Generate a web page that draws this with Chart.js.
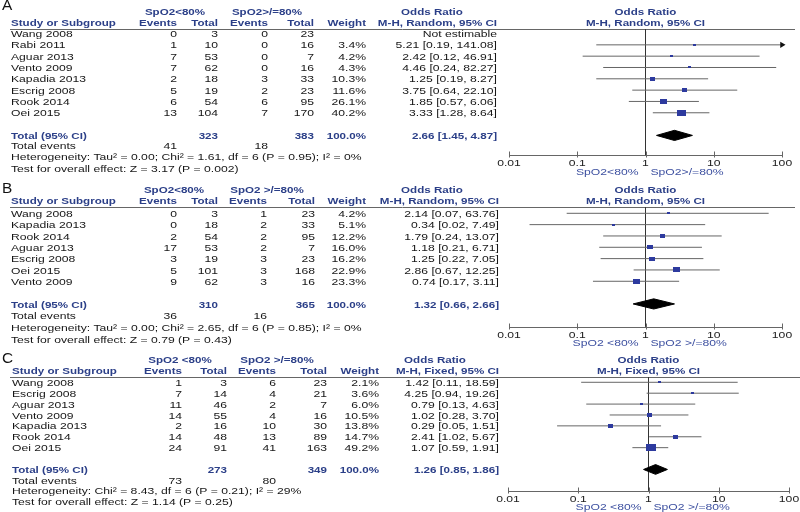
<!DOCTYPE html>
<html>
<head>
<meta charset="utf-8">
<script src="https://cdn.jsdelivr.net/npm/chart.js@4.4.1/dist/chart.umd.min.js"></script>
<style>
    body { margin: 0; background: #fff; }
    #wrap { position: relative; width: 800px; height: 512px; }
    #wrap canvas { position: absolute; left: 0; top: 0; }
</style>
</head>
<body>
<div id="wrap">
    <canvas id="panelA" width="800" height="512"></canvas>
    <canvas id="panelB" width="800" height="512"></canvas>
    <canvas id="panelC" width="800" height="512"></canvas>
</div>
<script>
// ---- panel A ----
const studiesA = ['Wang 2008', 'Rabi 2011', 'Aguar 2013', 'Vento 2009', 'Kapadia 2013', 'Escrig 2008', 'Rook 2014', 'Oei 2015'];
const events1A = [0, 1, 7, 7, 2, 5, 6, 13];
const total1A = [3, 10, 53, 62, 18, 19, 54, 104];
const events2A = [0, 0, 0, 0, 3, 2, 6, 7];
const total2A = [23, 16, 7, 16, 33, 23, 95, 170];
const weightA = [null, 3.4, 4.2, 4.3, 10.3, 11.6, 26.1, 40.2];
const oddsA = [null, 5.21, 2.42, 4.46, 1.25, 3.75, 1.85, 3.33];
const lowerA = [null, 0.19, 0.12, 0.24, 0.19, 0.64, 0.57, 1.28];
const upperA = [null, 141.08, 46.91, 82.27, 8.27, 22.10, 6.06, 8.64];
const pooledA = [2.66, 1.45, 4.87];
const groupsA = ['SpO2<80%', 'SpO2>/=80%'];
const favoursA = ['SpO2<80%', 'SpO2>/=80%'];
const methodA = 'M-H, Random, 95% CI';
const hetA = 'Heterogeneity: Tau² = 0.00; Chi² = 1.61, df = 6 (P = 0.95); I² = 0%';
const testA = 'Test for overall effect: Z = 3.17 (P = 0.002)';

// ---- panel B ----
const studiesB = ['Wang 2008', 'Kapadia 2013', 'Rook 2014', 'Aguar 2013', 'Escrig 2008', 'Oei 2015', 'Vento 2009'];
const events1B = [0, 0, 2, 17, 3, 5, 9];
const total1B = [3, 18, 54, 53, 19, 101, 62];
const events2B = [1, 2, 2, 2, 3, 3, 3];
const total2B = [23, 33, 95, 7, 23, 168, 16];
const weightB = [4.2, 5.1, 12.2, 16.0, 16.2, 22.9, 23.3];
const oddsB = [2.14, 0.34, 1.79, 1.18, 1.25, 2.86, 0.74];
const lowerB = [0.07, 0.02, 0.24, 0.21, 0.22, 0.67, 0.17];
const upperB = [63.76, 7.49, 13.07, 6.71, 7.05, 12.25, 3.11];
const pooledB = [1.32, 0.66, 2.66];
const groupsB = ['SpO2<80%', 'SpO2 >/=80%'];
const favoursB = ['SpO2 <80%', 'SpO2 >/=80%'];
const methodB = 'M-H, Random, 95% CI';
const hetB = 'Heterogeneity: Tau² = 0.00; Chi² = 2.65, df = 6 (P = 0.85); I² = 0%';
const testB = 'Test for overall effect: Z = 0.79 (P = 0.43)';

// ---- panel C ----
const studiesC = ['Wang 2008', 'Escrig 2008', 'Aguar 2013', 'Vento 2009', 'Kapadia 2013', 'Rook 2014', 'Oei 2015'];
const events1C = [1, 7, 11, 14, 2, 14, 24];
const total1C = [3, 14, 46, 55, 16, 48, 91];
const events2C = [6, 4, 2, 4, 10, 13, 41];
const total2C = [23, 21, 7, 16, 30, 89, 163];
const weightC = [2.1, 3.6, 6.0, 10.5, 13.8, 14.7, 49.2];
const oddsC = [1.42, 4.25, 0.79, 1.02, 0.29, 2.41, 1.07];
const lowerC = [0.11, 0.94, 0.13, 0.28, 0.05, 1.02, 0.59];
const upperC = [18.59, 19.26, 4.63, 3.70, 1.51, 5.67, 1.91];
const pooledC = [1.26, 0.85, 1.86];
const groupsC = ['SpO2 <80%', 'SpO2 >/=80%'];
const favoursC = ['SpO2 <80%', 'SpO2 >/=80%'];
const methodC = 'M-H, Fixed, 95% CI';
const hetC = 'Heterogeneity: Chi² = 8.43, df = 6 (P = 0.21); I² = 29%';
const testC = 'Test for overall effect: Z = 1.14 (P = 0.25)';

const tickValues = [0.01, 0.1, 1, 10, 100];
const tickLabels = ['0.01', '0.1', '1', '10', '100'];

// ---- look ----
const FONT = '"Liberation Sans", Arial, sans-serif';
const SX = 1.28;        // the source figure is stretched sideways
const SX_BOLD = 1.22;
const BLUE = '#2b3f88';
const INK = '#161616';
const LINE = '#666';
const SQUARE = '#2d3a9e';
const X_MIN = 0.01;
const X_MAX = 100;
const DIAMOND_H = 0.45;

const sum = arr => arr.reduce((a, b) => a + b, 0);
const fmtCI = (o, l, h) => `${o.toFixed(2)} [${l.toFixed(2)}, ${h.toFixed(2)}]`;

const drawText = (ctx, s, x, y, align, opts = {}) => {
    ctx.save();
    ctx.font = (opts.bold ? 'bold ' : '') + (opts.size || 9.5) + 'px ' + FONT;
    ctx.fillStyle = opts.color || INK;
    ctx.textAlign = align;
    ctx.textBaseline = 'middle';
    ctx.translate(x, y);
    ctx.scale(opts.sx || (opts.bold ? SX_BOLD : SX), 1);
    ctx.fillText(s, 0, 0);
    ctx.restore();
};

// weight box: width grows with sqrt(weight), a bit flatter than wide
const boxImage = (w) => {
    const c = document.createElement('canvas');
    c.width = Math.max(3, Math.round(1.42 * Math.sqrt(w)));
    c.height = Math.max(2, Math.round(c.width * 0.7));
    const g = c.getContext('2d');
    g.fillStyle = SQUARE;
    g.fillRect(0, 0, c.width, c.height);
    return c;
};

const panels = [
    {
        id: 'panelA', letter: 'A',
        studies: studiesA, ev1: events1A, tot1: total1A, ev2: events2A, tot2: total2A,
        weight: weightA, odds: oddsA, lower: lowerA, upper: upperA, pooled: pooledA,
        groups: groupsA, favours: favoursA, method: methodA, het: hetA, test: testA,
        box: {
            left: 509, right: 782, top: 29, bottom: 155, yMin: -0.4, yMax: 10.73,
            letterY: 6, head1: 12, head2: 23.5, foot: [146.7, 157, 169.5],
            studyX: 11, cols: [177, 218, 268, 314, 366, 497], g1: 175, g2: 267, orX: 432, lineEnd: 795
        }
    },
    {
        id: 'panelB', letter: 'B',
        studies: studiesB, ev1: events1B, tot1: total1B, ev2: events2B, tot2: total2B,
        weight: weightB, odds: oddsB, lower: lowerB, upper: upperB, pooled: pooledB,
        groups: groupsB, favours: favoursB, method: methodB, het: hetB, test: testB,
        box: {
            left: 509, right: 782, top: 207, bottom: 326.7, yMin: -0.556, yMax: 10.01,
            letterY: 189, head1: 190, head2: 201.7, foot: [316.7, 328.3, 340],
            studyX: 11, cols: [177, 218, 267, 315, 366, 499], g1: 174, g2: 267, orX: 432, lineEnd: 795
        }
    },
    {
        id: 'panelC', letter: 'C',
        studies: studiesC, ev1: events1C, tot1: total1C, ev2: events2C, tot2: total2C,
        weight: weightC, odds: oddsC, lower: lowerC, upper: upperC, pooled: pooledC,
        groups: groupsC, favours: favoursC, method: methodC, het: hetC, test: testC,
        box: {
            left: 508, right: 789, top: 377, bottom: 490.7, yMin: -0.486, yMax: 9.95,
            letterY: 359, head1: 360, head2: 371, foot: [481, 491.7, 502.3],
            studyX: 12, cols: [182, 227, 276, 327, 379, 499], g1: 180, g2: 277, orX: 435, lineEnd: 800
        }
    }
];

const makeTablePlugin = (p) => ({
    id: 'forestTable',
    beforeDatasetsDraw(chart) {
        const ctx = chart.ctx;
        const { x } = chart.scales;
        const area = chart.chartArea;
        ctx.save();
        ctx.strokeStyle = LINE;
        ctx.lineWidth = 1;
        // header rule
        ctx.beginPath();
        ctx.moveTo(10, Math.round(area.top) + 0.5);
        ctx.lineTo(p.box.lineEnd, Math.round(area.top) + 0.5);
        ctx.stroke();
        // log axis with ticks
        const ay = Math.round(area.bottom) + 0.5;
        ctx.beginPath();
        ctx.moveTo(x.getPixelForValue(X_MIN), ay);
        ctx.lineTo(x.getPixelForValue(X_MAX), ay);
        tickValues.forEach(v => {
            const px = Math.round(x.getPixelForValue(v)) + 0.5;
            ctx.moveTo(px, ay - 4);
            ctx.lineTo(px, ay + 2);
        });
        ctx.stroke();
        ctx.restore();
    },
    afterDraw(chart) {
        const ctx = chart.ctx;
        const { x, y } = chart.scales;
        const area = chart.chartArea;
        const b = p.box;
        const c = b.cols;
        const n = p.studies.length;
        const blue = { bold: true, color: BLUE };

        drawText(ctx, p.letter, 2, b.letterY, 'left', { size: 14, sx: 1.1, color: '#111' });

        // headers
        drawText(ctx, p.groups[0], b.g1, b.head1, 'center', blue);
        drawText(ctx, p.groups[1], b.g2, b.head1, 'center', blue);
        drawText(ctx, 'Odds Ratio', b.orX, b.head1, 'center', blue);
        drawText(ctx, 'Study or Subgroup', b.studyX, b.head2, 'left', blue);
        drawText(ctx, 'Events', c[0], b.head2, 'right', blue);
        drawText(ctx, 'Total', c[1], b.head2, 'right', blue);
        drawText(ctx, 'Events', c[2], b.head2, 'right', blue);
        drawText(ctx, 'Total', c[3], b.head2, 'right', blue);
        drawText(ctx, 'Weight', c[4], b.head2, 'right', blue);
        drawText(ctx, p.method, c[5], b.head2, 'right', blue);
        const mid = (area.left + area.right) / 2;
        drawText(ctx, 'Odds Ratio', mid, b.head1, 'center', blue);
        drawText(ctx, p.method, mid, b.head2, 'center', blue);

        // study rows
        p.studies.forEach((name, i) => {
            const py = y.getPixelForValue(i) + 1;
            drawText(ctx, name, b.studyX, py, 'left');
            drawText(ctx, String(p.ev1[i]), c[0], py, 'right');
            drawText(ctx, String(p.tot1[i]), c[1], py, 'right');
            drawText(ctx, String(p.ev2[i]), c[2], py, 'right');
            drawText(ctx, String(p.tot2[i]), c[3], py, 'right');
            if (p.weight[i] != null) drawText(ctx, p.weight[i].toFixed(1) + '%', c[4], py, 'right');
            const ci = p.odds[i] == null ? 'Not estimable' : fmtCI(p.odds[i], p.lower[i], p.upper[i]);
            drawText(ctx, ci, c[5], py, 'right');
        });

        // pooled row
        const ty = y.getPixelForValue(n + 1) + 1;
        drawText(ctx, 'Total (95% CI)', b.studyX, ty, 'left', blue);
        drawText(ctx, String(sum(p.tot1)), c[1], ty, 'right', blue);
        drawText(ctx, String(sum(p.tot2)), c[3], ty, 'right', blue);
        drawText(ctx, '100.0%', c[4], ty, 'right', blue);
        drawText(ctx, fmtCI(...p.pooled), c[5], ty, 'right', blue);

        drawText(ctx, 'Total events', b.studyX, b.foot[0], 'left');
        drawText(ctx, String(sum(p.ev1)), c[0], b.foot[0], 'right');
        drawText(ctx, String(sum(p.ev2)), c[2], b.foot[0], 'right');
        drawText(ctx, p.het, b.studyX, b.foot[1], 'left');
        drawText(ctx, p.test, b.studyX, b.foot[2], 'left');

        // axis labels
        tickValues.forEach((v, k) => {
            drawText(ctx, tickLabels[k], x.getPixelForValue(v), area.bottom + 8.5, 'center', { color: '#222' });
        });
        const one = x.getPixelForValue(1);
        drawText(ctx, p.favours[0], one - 7, area.bottom + 17, 'right', { color: '#3d50a0' });
        drawText(ctx, p.favours[1], one + 5, area.bottom + 17, 'left', { color: '#3d50a0' });
    }
});

const createForestChart = (p) => {
    const ctx = document.getElementById(p.id);
    const b = p.box;
    const n = p.studies.length;
    const totalRow = n + 1;
    const shown = p.odds.map((v, i) => i).filter(i => p.odds[i] != null);
    const boxes = shown.map(i => boxImage(p.weight[i]));
    const [pe, plo, phi] = p.pooled;

    const squareSet = {
        type: 'scatter',
        data: shown.map(i => ({ x: p.odds[i], y: i })),
        pointStyle: (c) => boxes[c.dataIndex],
        pointRadius: 4,
        backgroundColor: SQUARE,
        borderWidth: 0,
        order: 0,
        clip: false
    };
    const diamondTop = {
        type: 'line',
        data: [{ x: plo, y: totalRow }, { x: pe, y: totalRow - DIAMOND_H }, { x: phi, y: totalRow }],
        borderColor: '#000',
        backgroundColor: '#000',
        borderWidth: 1,
        pointRadius: 0,
        fill: '+1',
        order: 1
    };
    const diamondBottom = {
        type: 'line',
        data: [{ x: plo, y: totalRow }, { x: pe, y: totalRow + DIAMOND_H }, { x: phi, y: totalRow }],
        borderColor: '#000',
        borderWidth: 1,
        pointRadius: 0,
        fill: false,
        order: 1
    };
    const ciSets = shown.map(i => {
        const over = p.upper[i] > X_MAX;
        return {
            type: 'line',
            data: [{ x: Math.max(p.lower[i], X_MIN), y: i }, { x: Math.min(p.upper[i], X_MAX), y: i }],
            borderColor: LINE,
            borderWidth: 1,
            pointRadius: [0, over ? 3.5 : 0],
            pointStyle: 'triangle',
            rotation: 90,
            pointBackgroundColor: '#111',
            pointBorderWidth: 0,
            fill: false,
            order: 2,
            clip: false
        };
    });
    const refLine = {
        type: 'line',
        data: [{ x: 1, y: b.yMin }, { x: 1, y: b.yMax }],
        borderColor: '#333',
        borderWidth: 1,
        pointRadius: 0,
        fill: false,
        order: 3
    };

    return new Chart(ctx, {
        type: 'scatter',
        data: { datasets: [squareSet, diamondTop, diamondBottom, ...ciSets, refLine] },
        options: {
            responsive: false,
            animation: false,
            devicePixelRatio: 1,
            events: [],
            layout: {
                padding: { left: b.left, right: 800 - b.right, top: b.top, bottom: 512 - b.bottom }
            },
            plugins: {
                legend: { display: false },
                tooltip: { enabled: false }
            },
            scales: {
                x: { type: 'logarithmic', min: X_MIN, max: X_MAX, display: false },
                y: { type: 'linear', min: b.yMin, max: b.yMax, reverse: true, display: false }
            }
        },
        plugins: [makeTablePlugin(p)]
    });
};

panels.forEach(createForestChart);
</script>
</body>
</html>
